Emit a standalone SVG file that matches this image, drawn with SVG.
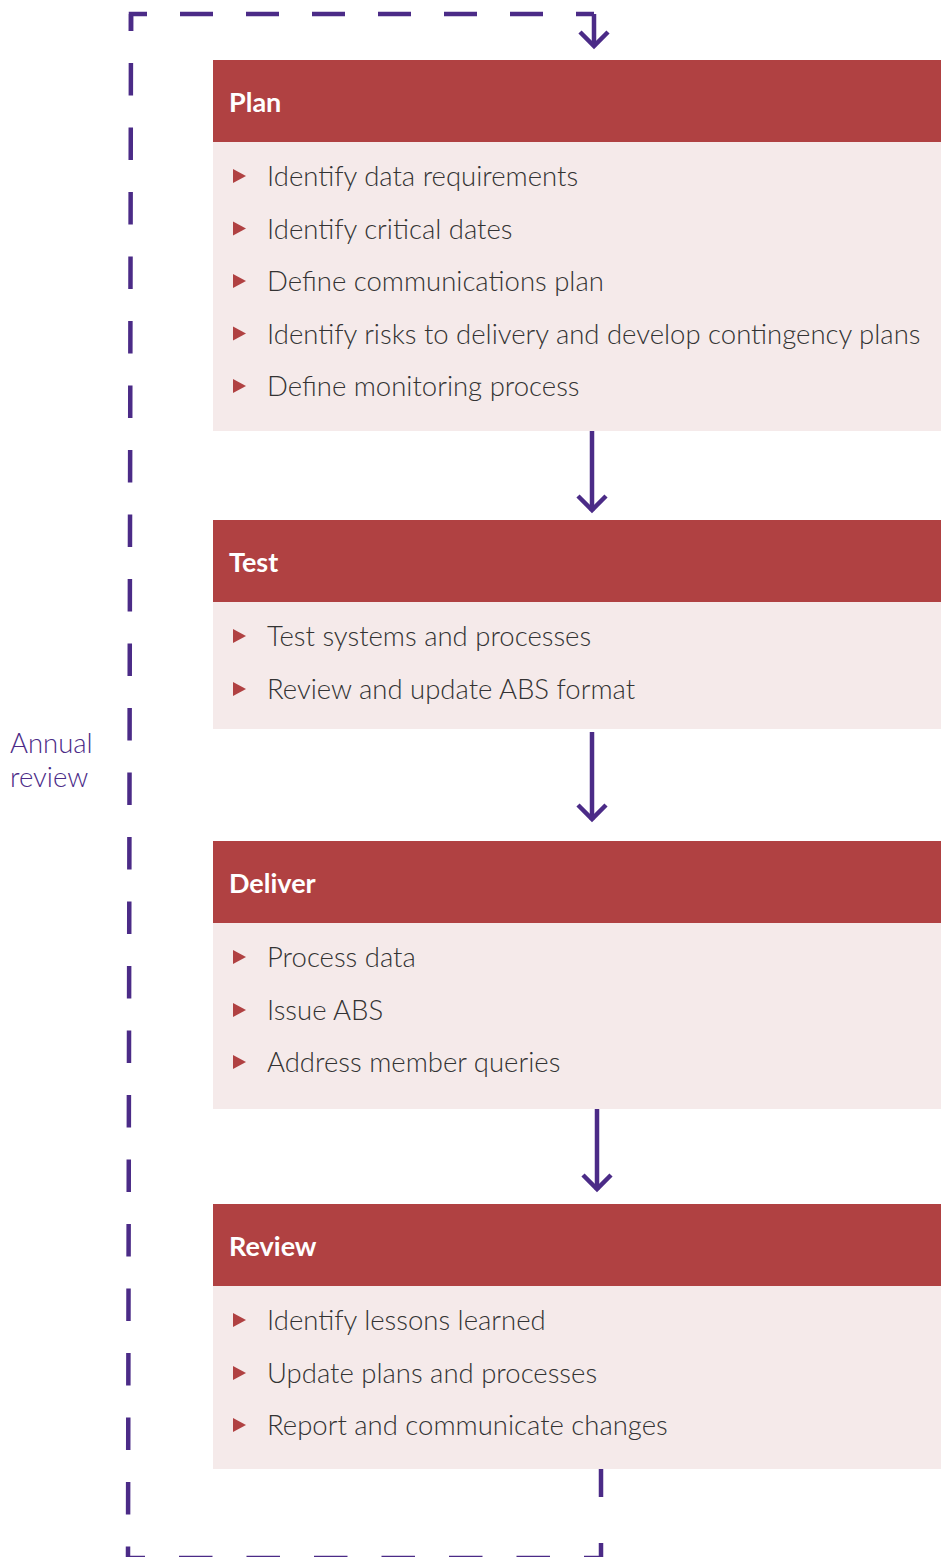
<svg xmlns="http://www.w3.org/2000/svg" width="941" height="1557" viewBox="0 0 941 1557">
<style>
.hdr{fill:#b04142}
.body{fill:#f5eaea}
.title{font-family:Lato,"Liberation Sans",sans-serif;font-weight:700;font-size:27px;fill:#ffffff}
.item{font-family:Lato,"Liberation Sans",sans-serif;font-weight:300;font-size:27.5px;fill:#333333}
.bul{fill:#b04142}
.ln{fill:none;stroke:#4b2b87;stroke-width:4.5}
.note{font-family:Lato,"Liberation Sans",sans-serif;font-weight:300;font-size:27.5px;fill:#4b2b87}
</style>
<rect width="941" height="1557" fill="#ffffff"/>
<g id="connectors">
<path class="ln" d="M131,31 L131,14 L594,14" stroke-dasharray="33 33"/>
<path class="ln" d="M594,14 L594,46"/>
<path class="ln" d="M580,32 L594,46 L608,32"/>
<path class="ln" d="M131,14 L128,1558" stroke-dasharray="32.5 32" stroke-dashoffset="15.5"/>
<path class="ln" d="M128,1558 L601,1558" stroke-dasharray="33.5 34" stroke-dashoffset="16.5"/>
<path class="ln" d="M601,1558 L601,1469" stroke-dasharray="15 46 28 100"/>
<path class="ln" d="M592,429 L592,511"/>
<path class="ln" d="M578,496 L592,510 L606,496"/>
<path class="ln" d="M592,732 L592,820"/>
<path class="ln" d="M578,805 L592,819 L606,805"/>
<path class="ln" d="M597,1109 L597,1190"/>
<path class="ln" d="M583,1175 L597,1189 L611,1175"/>
</g>
<g id="annual-review">
<text class="note" x="10" y="753">Annual</text>
<text class="note" x="10" y="787">review</text>
</g>
<g id="plan">
<rect class="hdr" x="213" y="60" width="728" height="82"/>
<rect class="body" x="213" y="142" width="728" height="289"/>
<text class="title" x="229" y="112">Plan</text>
<path class="bul" d="M233,169 L233,183 L246,176 Z"/>
<path class="bul" d="M233,221.5 L233,235.5 L246,228.5 Z"/>
<path class="bul" d="M233,274 L233,288 L246,281 Z"/>
<path class="bul" d="M233,326.5 L233,340.5 L246,333.5 Z"/>
<path class="bul" d="M233,379 L233,393 L246,386 Z"/>
<text class="item" x="267" y="186">Identify data requirements</text>
<text class="item" x="267" y="238.5">Identify critical dates</text>
<text class="item" x="267" y="291">Define communications plan</text>
<text class="item" x="267" y="343.5">Identify risks to delivery and develop contingency plans</text>
<text class="item" x="267" y="396">Define monitoring process</text>
</g>
<g id="test">
<rect class="hdr" x="213" y="520" width="728" height="82"/>
<rect class="body" x="213" y="602" width="728" height="127"/>
<text class="title" x="229" y="572">Test</text>
<path class="bul" d="M233,629 L233,643 L246,636 Z"/>
<path class="bul" d="M233,682 L233,696 L246,689 Z"/>
<text class="item" x="267" y="646">Test systems and processes</text>
<text class="item" x="267" y="699">Review and update ABS format</text>
</g>
<g id="deliver">
<rect class="hdr" x="213" y="841" width="728" height="82"/>
<rect class="body" x="213" y="923" width="728" height="186"/>
<text class="title" x="229" y="893">Deliver</text>
<path class="bul" d="M233,950 L233,964 L246,957 Z"/>
<path class="bul" d="M233,1003 L233,1017 L246,1010 Z"/>
<path class="bul" d="M233,1055 L233,1069 L246,1062 Z"/>
<text class="item" x="267" y="967">Process data</text>
<text class="item" x="267" y="1020">Issue ABS</text>
<text class="item" x="267" y="1072">Address member queries</text>
</g>
<g id="review">
<rect class="hdr" x="213" y="1204" width="728" height="82"/>
<rect class="body" x="213" y="1286" width="728" height="183"/>
<text class="title" x="229" y="1256">Review</text>
<path class="bul" d="M233,1313 L233,1327 L246,1320 Z"/>
<path class="bul" d="M233,1366 L233,1380 L246,1373 Z"/>
<path class="bul" d="M233,1418 L233,1432 L246,1425 Z"/>
<text class="item" x="267" y="1330">Identify lessons learned</text>
<text class="item" x="267" y="1383">Update plans and processes</text>
<text class="item" x="267" y="1435">Report and communicate changes</text>
</g>
</svg>
